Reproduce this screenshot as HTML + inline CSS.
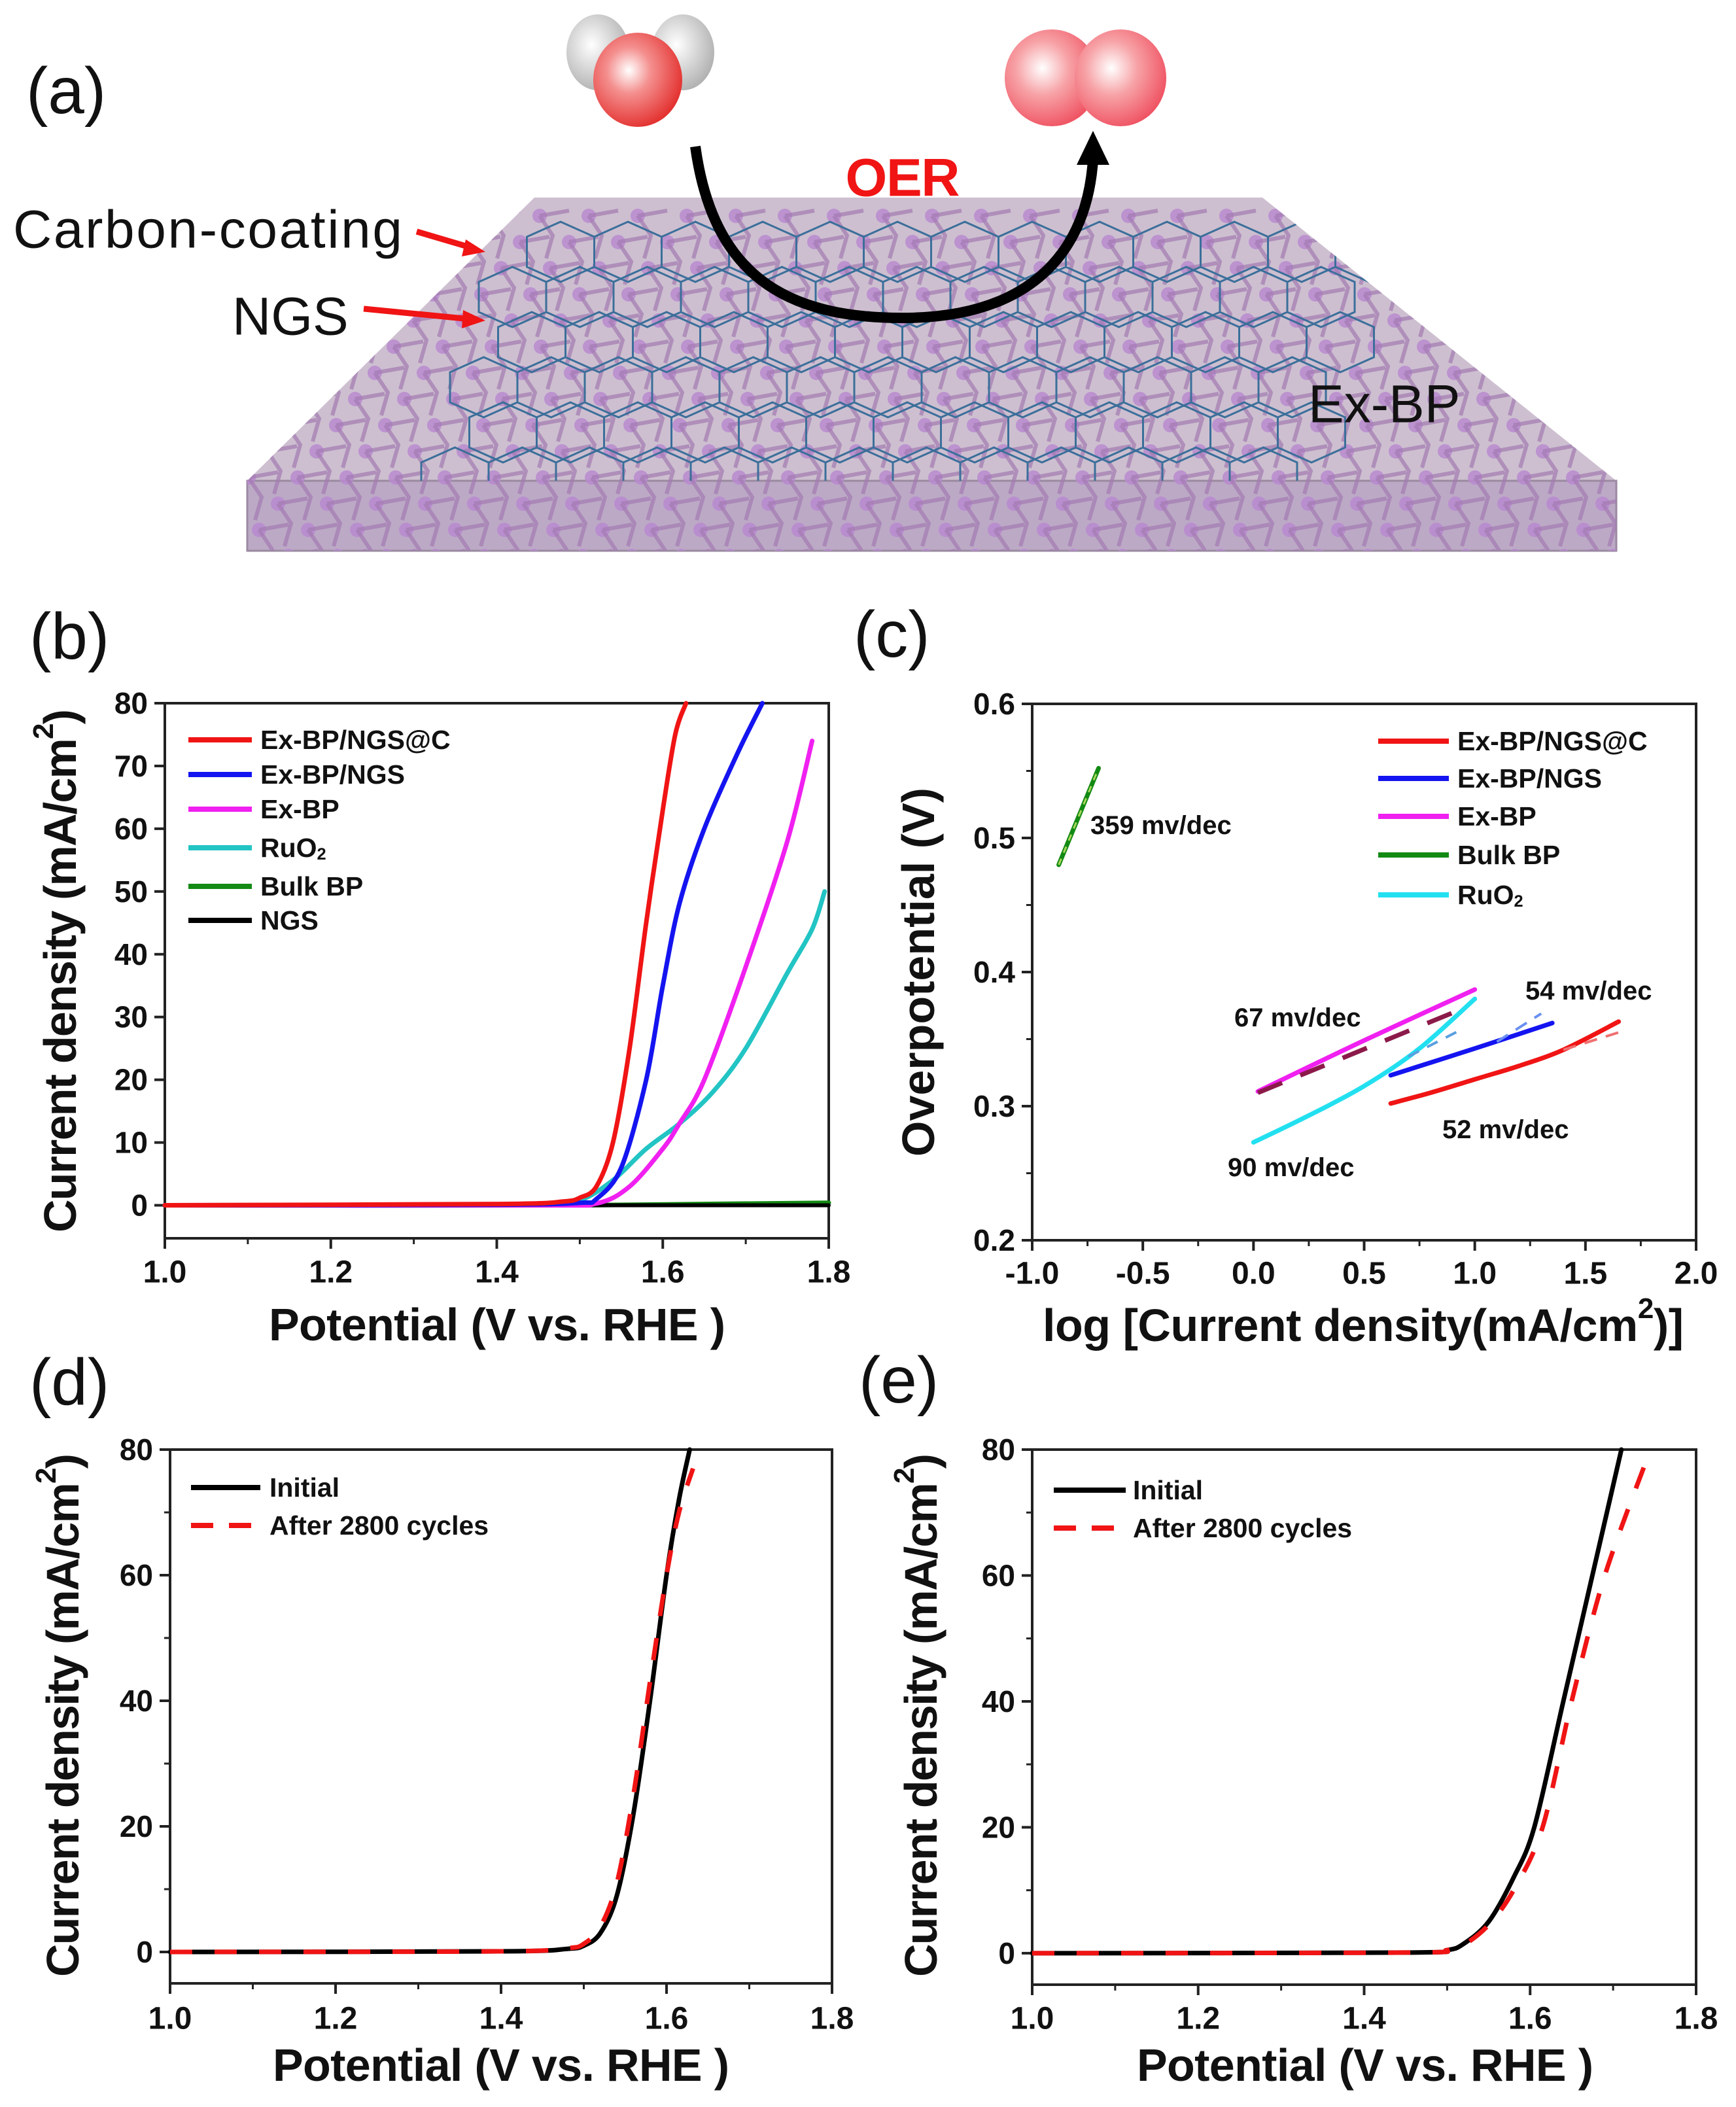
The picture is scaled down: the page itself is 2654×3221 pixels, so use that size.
<!DOCTYPE html>
<html><head><meta charset="utf-8">
<style>
html,body{margin:0;padding:0;background:#fff;}
svg{display:block;}
text{font-family:"Liberation Sans",Arial,sans-serif;}
.b{font-weight:bold;}
</style></head>
<body>
<svg id="fig" xmlns="http://www.w3.org/2000/svg" width="2654" height="3221" viewBox="0 0 2654 3221">
<defs>
<radialGradient id="gRed" cx="0.4" cy="0.4" r="0.7"><stop offset="0" stop-color="#fff"/><stop offset="0.35" stop-color="#f4908f"/><stop offset="1" stop-color="#e0201e"/></radialGradient>
<radialGradient id="gPink" cx="0.4" cy="0.4" r="0.7"><stop offset="0" stop-color="#fff"/><stop offset="0.4" stop-color="#f7a3a7"/><stop offset="1" stop-color="#ee4456"/></radialGradient>
<radialGradient id="gGray" cx="0.4" cy="0.4" r="0.7"><stop offset="0" stop-color="#fff"/><stop offset="1" stop-color="#a9a9a9"/></radialGradient>
<clipPath id="trapClip"><polygon points="817,302 1930,302 2471,735 2471,842 378,842 378,735"/></clipPath>
<clipPath id="hexClip"><polygon points="817,302 1930,302 2471,735 378,735"/></clipPath>
</defs>
<g id="panelA"></g>
<g id="panelB"></g>
<g id="panelC"></g>
<g id="panelD"></g>
<g id="panelE"></g>
</svg>
<script>
// ---------- data: panel b ----------
const bX_red=[1.0,1.4,1.48,1.5,1.52,1.54,1.56,1.58,1.60,1.615,1.628];
const bY_red=[0,0.2,0.6,1.2,3,10,25,45,63,75,80];
const bX_blue=[1.0,1.4,1.5,1.52,1.55,1.58,1.60,1.62,1.65,1.69,1.72];
const bY_blue=[0,0.1,0.4,1,6,20,35,48,60,72,80];
const bX_mag=[1.0,1.45,1.52,1.56,1.6,1.62,1.65,1.7,1.75,1.78];
const bY_mag=[0,0,0.3,3,9,13,20,38,58,74];
const bX_cyan=[1.0,1.45,1.5,1.54,1.58,1.62,1.66,1.7,1.75,1.78,1.795];
const bY_cyan=[0,0.1,0.8,4,9,13,18,25,37,44,50];
const bX_green=[1.0,1.5,1.8];
const bY_green=[0,0,0.4];
const bX_black=[1.0,1.8];
const bY_black=[0,0];
const bXTicks=[1.0,1.2,1.4,1.6,1.8];
const bXTickLabels=["1.0","1.2","1.4","1.6","1.8"];
const bYTicks=[0,10,20,30,40,50,60,70,80];
const bYTickLabels=["0","10","20","30","40","50","60","70","80"];
// ---------- data: panel c ----------
const cX_green=[-0.88,-0.70];
const cY_green=[0.480,0.552];
const cX_mag=[0.02,0.5,1.0];
const cY_mag=[0.311,0.349,0.387];
const cX_magFit=[0.02,0.95];
const cY_magFit=[0.310,0.373];
const cX_cyan=[0.0,0.25,0.5,0.75,1.0];
const cY_cyan=[0.273,0.293,0.315,0.343,0.380];
const cX_cyanFit=[0.7,0.95];
const cY_cyanFit=[0.337,0.358];
const cX_blue=[0.62,1.0,1.35];
const cY_blue=[0.323,0.343,0.362];
const cX_blueFit=[1.1,1.3];
const cY_blueFit=[0.348,0.369];
const cX_red=[0.62,0.8,1.0,1.2,1.4,1.65];
const cY_red=[0.302,0.310,0.320,0.330,0.342,0.363];
const cX_redFit=[1.4,1.65];
const cY_redFit=[0.342,0.355];
const cXTicks=[-1.0,-0.5,0.0,0.5,1.0,1.5,2.0];
const cXTickLabels=["-1.0","-0.5","0.0","0.5","1.0","1.5","2.0"];
const cYTicks=[0.2,0.3,0.4,0.5,0.6];
const cYTickLabels=["0.2","0.3","0.4","0.5","0.6"];
// ---------- data: panel d ----------
const dX_init=[1.0,1.4,1.48,1.50,1.52,1.54,1.56,1.58,1.60,1.615,1.628];
const dY_init=[0,0.1,0.5,1,3,9,22,40,60,72,80];
const dX_after=[1.0,1.4,1.48,1.50,1.52,1.54,1.56,1.58,1.60,1.615,1.632];
const dY_after=[0,0.1,0.6,1.3,4,11,25,43,60,70,77];
// ---------- data: panel e ----------
const eX_init=[1.0,1.45,1.50,1.52,1.55,1.58,1.605,1.64,1.675,1.71];
const eY_init=[0,0.1,0.5,1.5,5,12,20,40,60,80];
const eX_after=[1.0,1.45,1.50,1.52,1.55,1.58,1.615,1.65,1.69,1.745];
const eY_after=[0,0.1,0.5,1.3,4.5,10,20,40,60,80];
const deYTicks=[0,20,40,60,80];
const deYTickLabels=["0","20","40","60","80"];

const NS="http://www.w3.org/2000/svg";
function mk(tag,attrs,parent){const e=document.createElementNS(NS,tag);for(const k in attrs)e.setAttribute(k,attrs[k]);parent.appendChild(e);return e;}

function axes(g,cfg){
  const sx=v=>cfg.x0+(v-cfg.xmin)/(cfg.xmax-cfg.xmin)*(cfg.x1-cfg.x0);
  const sy=v=>cfg.y1-(v-cfg.ymin)/(cfg.ymax-cfg.ymin)*(cfg.y1-cfg.y0);
  const fr=mk('rect',{x:cfg.x0,y:cfg.y0,width:cfg.x1-cfg.x0,height:cfg.y1-cfg.y0,fill:'none',stroke:'#222','stroke-width':4},g);
  
  
  cfg.xt.forEach((v,i)=>{
    const t=mk('line',{x1:sx(v),x2:sx(v),y1:cfg.y1,y2:cfg.y1+16,stroke:'#222','stroke-width':4},g);
    
    
    if(i<cfg.xt.length-1){const m=(v+cfg.xt[i+1])/2;
      const mt=mk('line',{x1:sx(m),x2:sx(m),y1:cfg.y1,y2:cfg.y1+9,stroke:'#222','stroke-width':3},g);
      
      }
    const l=mk('text',{x:sx(v),y:cfg.xly,'font-size':48,'text-anchor':'middle','dominant-baseline':'central',class:'b',fill:'#111'},g);
    l.textContent=cfg.xl[i];
    
    
  });
  cfg.yt.forEach((v,i)=>{
    const t=mk('line',{x1:cfg.x0-16,x2:cfg.x0,y1:sy(v),y2:sy(v),stroke:'#222','stroke-width':4},g);
    
    
    if(cfg.ym && i<cfg.yt.length-1){const m=(v+cfg.yt[i+1])/2;
      const mt=mk('line',{x1:cfg.x0-9,x2:cfg.x0,y1:sy(m),y2:sy(m),stroke:'#222','stroke-width':3},g);
      
      }
    const l=mk('text',{x:cfg.x0-26,y:sy(v),'font-size':46,'text-anchor':'end','dominant-baseline':'central',class:'b',fill:'#111'},g);
    l.textContent=cfg.yl[i];
    
    
  });
  return {sx,sy};
}
function smoothPath(P){
  if(P.length<3)return P.map((p,i)=>(i?'L':'M')+p[0].toFixed(1)+','+p[1].toFixed(1)).join(' ');
  let d='M'+P[0][0].toFixed(1)+','+P[0][1].toFixed(1);
  for(let i=0;i<P.length-1;i++){
    const p0=P[Math.max(0,i-1)],p1=P[i],p2=P[i+1],p3=P[Math.min(P.length-1,i+2)];
    const t=0.16;
    const c1=[p1[0]+(p2[0]-p0[0])*t,p1[1]+(p2[1]-p0[1])*t];
    const c2=[p2[0]-(p3[0]-p1[0])*t,p2[1]-(p3[1]-p1[1])*t];
    d+=' C'+c1[0].toFixed(1)+','+c1[1].toFixed(1)+' '+c2[0].toFixed(1)+','+c2[1].toFixed(1)+' '+p2[0].toFixed(1)+','+p2[1].toFixed(1);
  }
  return d;
}
function series(g,s,X,Y,color,w,dash,name){
  const P=X.map((v,i)=>[s.sx(v),s.sy(Y[i])]);
  const p=mk('path',{d:smoothPath(P),fill:'none',stroke:color,'stroke-width':w,'stroke-linejoin':'round','stroke-linecap':dash?'butt':'round'},g);
  if(dash)p.setAttribute('stroke-dasharray',dash);
  
  
}
function legend(g,items,lx0,lx1,tx,ys,fs){
  items.forEach((it,i)=>{
    const ln=mk('line',{x1:lx0,x2:lx1,y1:ys[i],y2:ys[i],stroke:it[1],'stroke-width':8},g);
    if(it[2])ln.setAttribute('stroke-dasharray',it[2]);
    
    
    const t=mk('text',{x:tx,y:ys[i],'font-size':fs,class:'b','dominant-baseline':'central',fill:'#111'},g);
    if(it[0]==='RuO2'){t.innerHTML='RuO<tspan font-size="'+(fs*0.62)+'" dy="10">2</tspan>';}
    else t.textContent=it[0];
    
    
  });
}
function label(g,txt,x,y,fs,attrs,name){
  const t=mk('text',Object.assign({x:x,y:y,'font-size':fs,fill:'#111','dominant-baseline':'central'},attrs||{}),g);
  t.innerHTML=txt;
  
  
  return t;
}
const yTitle='Current density (mA/cm<tspan dy="-26" font-size="44">2</tspan><tspan dy="26">)</tspan>';

// ---------- panel b ----------
(function(){
  const g=document.getElementById('panelB');
  label(g,'(b)',45,973,100,{},'panel-label-b');
  const s=axes(g,{x0:252,x1:1267,y0:1075,y1:1893,xmin:1.0,xmax:1.8,ymin:-5.26,ymax:80,xt:bXTicks,xl:bXTickLabels,yt:bYTicks,yl:bYTickLabels,ym:false,xly:1945});
  series(g,s,bX_green,bY_green,'#138a13',7,null,'series-bulk-bp');
  series(g,s,bX_black,bY_black,'#000',6,null,'series-ngs');
  series(g,s,bX_cyan,bY_cyan,'#22c4c4',7,null,'series-ruo2');
  series(g,s,bX_mag,bY_mag,'#f020f0',7,null,'series-ex-bp');
  series(g,s,bX_blue,bY_blue,'#1414f0',7,null,'series-ex-bp-ngs');
  series(g,s,bX_red,bY_red,'#f01414',7,null,'series-ex-bp-ngs-c');
  legend(g,[['Ex-BP/NGS@C','#f01414'],['Ex-BP/NGS','#1414f0'],['Ex-BP','#f020f0'],['RuO2','#22c4c4'],['Bulk BP','#138a13'],['NGS','#000']],288,385,398,[1131,1184,1237,1296,1355,1407],41);
  label(g,'Potential (V vs. RHE )',760,2025,70,{class:'b','text-anchor':'middle',textLength:698},'x-axis-title');
  label(g,yTitle,0,0,70,{class:'b','text-anchor':'middle',transform:'translate(92,1484) rotate(-90)',textLength:800},'y-axis-title');
})();

// ---------- panel c ----------
(function(){
  const g=document.getElementById('panelC');
  label(g,'(c)',1305,970,100,{},'panel-label-c');
  const s=axes(g,{x0:1578,x1:2593,y0:1076,y1:1896,xmin:-1.0,xmax:2.0,ymin:0.2,ymax:0.6,xt:cXTicks,xl:cXTickLabels,yt:cYTicks,yl:cYTickLabels,ym:true,xly:1947});
  series(g,s,cX_green,cY_green,'#138a13',7,null,'series-bulk-bp');
  series(g,s,cX_green,cY_green,'#a6d65a',3,'10 10','fit-bulk-bp');
  series(g,s,cX_mag,cY_mag,'#f020f0',7,null,'series-ex-bp');
  series(g,s,cX_magFit,cY_magFit,'#8b1a4a',7,'40 30','fit-ex-bp');
  series(g,s,cX_cyan,cY_cyan,'#22e0f0',7,null,'series-ruo2');
  series(g,s,cX_cyanFit,cY_cyanFit,'#5aa0e0',4,'18 14','fit-ruo2');
  series(g,s,cX_blue,cY_blue,'#1414f0',7,null,'series-ex-bp-ngs');
  series(g,s,cX_blueFit,cY_blueFit,'#6a90f0',4,'20 14','fit-ex-bp-ngs');
  series(g,s,cX_red,cY_red,'#f01414',7,null,'series-ex-bp-ngs-c');
  series(g,s,cX_redFit,cY_redFit,'#f07070',4,'20 14','fit-ex-bp-ngs-c');
  legend(g,[['Ex-BP/NGS@C','#f01414'],['Ex-BP/NGS','#1414f0'],['Ex-BP','#f020f0'],['Bulk BP','#138a13'],['RuO2','#22e0f0']],2107,2215,2228,[1133,1190,1248,1307,1368],41);
  label(g,'359 mv/dec',1667,1262,40,{class:'b'},'slope-label-bulk-bp');
  label(g,'67 mv/dec',1887,1556,40,{class:'b'},'slope-label-ex-bp');
  label(g,'54 mv/dec',2332,1515,40,{class:'b'},'slope-label-ex-bp-ngs');
  label(g,'52 mv/dec',2205,1727,40,{class:'b'},'slope-label-ex-bp-ngs-c');
  label(g,'90 mv/dec',1877,1785,40,{class:'b'},'slope-label-ruo2');
  label(g,'log [Current density(mA/cm<tspan dy="-26" font-size="44">2</tspan><tspan dy="26">)]</tspan>',2084,2026,70,{class:'b','text-anchor':'middle',textLength:980},'x-axis-title');
  label(g,'Overpotential (V)',0,0,70,{class:'b','text-anchor':'middle',transform:'translate(1404,1486) rotate(-90)'},'y-axis-title');
})();

// ---------- panel d ----------
(function(){
  const g=document.getElementById('panelD');
  label(g,'(d)',45,2113,100,{},'panel-label-d');
  const s=axes(g,{x0:260,x1:1272,y0:2216,y1:3032,xmin:1.0,xmax:1.8,ymin:-5,ymax:80,xt:bXTicks,xl:bXTickLabels,yt:deYTicks,yl:deYTickLabels,ym:true,xly:3086});
  series(g,s,dX_init,dY_init,'#000',7,null,'series-initial');
  series(g,s,dX_after,dY_after,'#f01414',7,'34 34','series-after-2800-cycles');
  legend(g,[['Initial','#000'],['After 2800 cycles','#f01414','34 24']],292,398,412,[2274,2332],41);
  label(g,'Potential (V vs. RHE )',766,3157,70,{class:'b','text-anchor':'middle',textLength:698},'x-axis-title');
  label(g,yTitle,0,0,70,{class:'b','text-anchor':'middle',transform:'translate(96,2622) rotate(-90)',textLength:800},'y-axis-title');
})();

// ---------- panel e ----------
(function(){
  const g=document.getElementById('panelE');
  label(g,'(e)',1313,2110,100,{},'panel-label-e');
  const s=axes(g,{x0:1578,x1:2593,y0:2216,y1:3034,xmin:1.0,xmax:1.8,ymin:-5,ymax:80,xt:bXTicks,xl:bXTickLabels,yt:deYTicks,yl:deYTickLabels,ym:true,xly:3086});
  series(g,s,eX_init,eY_init,'#000',7,null,'series-initial');
  series(g,s,eX_after,eY_after,'#f01414',7,'34 34','series-after-2800-cycles');
  legend(g,[['Initial','#000'],['After 2800 cycles','#f01414','34 24']],1611,1721,1732,[2278,2336],41);
  label(g,'Potential (V vs. RHE )',2087,3157,70,{class:'b','text-anchor':'middle',textLength:698},'x-axis-title');
  label(g,yTitle,0,0,70,{class:'b','text-anchor':'middle',transform:'translate(1408,2622) rotate(-90)',textLength:800},'y-axis-title');
})();

// ---------- panel a (schematic) ----------
(function(){
  const g=document.getElementById('panelA');
  label(g,'(a)',40,139,100,{},'panel-label-a');
  const slab=mk('polygon',{points:'817,302 1930,302 2471,735 378,735',fill:'#cdbfd0'},g);
  
  
  const front=mk('rect',{x:378,y:735,width:2093,height:107,fill:'#bca9c6',stroke:'#9a8aa0','stroke-width':3},g);
  
  
  const cl=mk('g',{'clip-path':'url(#trapClip)'},g);
  
  
  let bonds='';
  for(let r=0;r<14;r++){for(let c=0;c<30;c++){
    const x=300+c*75+r*8+((r%2)*37), y=330+r*40;
    bonds+='M'+x+','+y+' l20,30 l-10,35 M'+x+','+y+' l45,-8 ';
    const a=mk('circle',{cx:x,cy:y,r:11,fill:'#b889cf',opacity:0.85},cl);
    
    
  }}
  const bp=mk('path',{d:bonds,stroke:'#a27ab0','stroke-width':6,fill:'none',opacity:0.7},cl);
  
  
  // honeycomb (pointy-top, clipped to top surface)
  let hex='';const HW=51.5,HR=46;
  for(let r=0;r<7;r++){for(let c=-1;c<12;c++){
    const cx=960+c*HW*2+(r%2?-HW:0)-r*22, cy=385+r*HR*1.5;
    let p='';
    const pts=[[0,-HR],[HW,-HR/2],[HW,HR/2],[0,HR],[-HW,HR/2],[-HW,-HR/2]];
    pts.forEach((q,k)=>{p+=(k?'L':'M')+(cx+q[0]).toFixed(1)+','+(cy+q[1]).toFixed(1);});
    hex+=p+'Z';
  }}
  const hg=mk('g',{'clip-path':'url(#hexClip)'},g);
  
  
  const hx=mk('path',{d:hex,fill:'none',stroke:'#3b6f9a','stroke-width':3},hg);
  
  
  // molecules
  const h1=mk('ellipse',{cx:914,cy:80,rx:48,ry:58,fill:'url(#gGray)'},g);
  
  
  const h2=mk('ellipse',{cx:1044,cy:80,rx:48,ry:58,fill:'url(#gGray)'},g);
  
  
  const o=mk('ellipse',{cx:975,cy:122,rx:68,ry:72,fill:'url(#gRed)'},g);
  
  
  const o1=mk('ellipse',{cx:1608,cy:119,rx:72,ry:74,fill:'url(#gPink)'},g);
  
  
  const o2=mk('ellipse',{cx:1713,cy:119,rx:70,ry:74,fill:'url(#gPink)'},g);
  
  
  const arc=mk('path',{d:'M1063,224 C1090,420 1200,486 1380,486 C1560,486 1660,400 1671,245',fill:'none',stroke:'#000','stroke-width':16},g);
  
  
  const head=mk('polygon',{points:'1671,200 1646,252 1696,252',fill:'#000'},g);
  
  
  label(g,'OER',1380,272,82,{class:'b','text-anchor':'middle',fill:'#f01414',textLength:175},'oer-label');
  label(g,'Carbon-coating',20,351,82,{textLength:595},'carbon-coating-label');
  label(g,'NGS',355,484,82,{},'ngs-label');
  label(g,'Ex-BP',2000,618,82,{},'ex-bp-label');
  const a1=mk('path',{d:'M637,354 L725,380',stroke:'#f01414','stroke-width':9},g);
  
  
  const a1h=mk('polygon',{points:'742,385 712,366 706,392',fill:'#f01414'},g);
  
  
  const a2=mk('path',{d:'M556,472 L720,488',stroke:'#f01414','stroke-width':9},g);
  
  
  const a2h=mk('polygon',{points:'742,490 708,474 706,502',fill:'#f01414'},g);
  
  
})();
</script>
</body></html>
